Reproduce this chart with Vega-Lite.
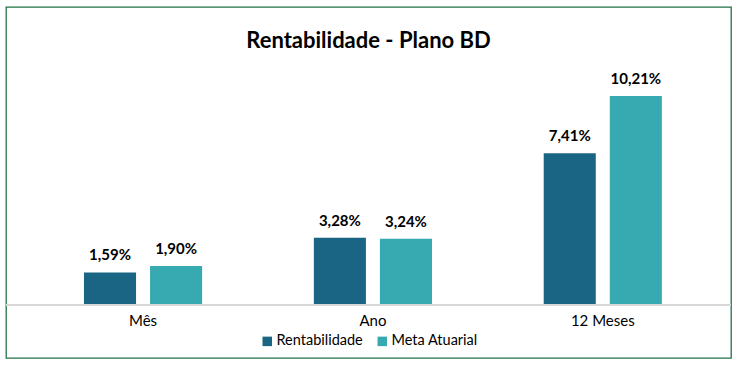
{
  "$schema": "https://vega.github.io/schema/vega-lite/v6.json",
  "width": 725,
  "height": 351,
  "autosize": {"type": "none"},
  "padding": {"left": 6, "top": 7, "right": 7, "bottom": 8},
  "background": "white",
  "config": {
    "locale": {"number": {"decimal": ",", "thousands": ".", "grouping": [3], "currency": ["R$", ""]}},
    "view": {"stroke": "#217346", "strokeWidth": 1.3},
    "font": "Lato"
  },
  "title": {"text": "Rentabilidade - Plano BD", "fontSize": 22, "font": "Lato", "fontWeight": "bold", "color": "#000000", "anchor": "middle", "offset": -46},
  "data": {
    "values": [
      {"periodo": "Mês", "serie": "Rentabilidade", "valor": 0.0159},
      {"periodo": "Mês", "serie": "Meta Atuarial", "valor": 0.0190},
      {"periodo": "Ano", "serie": "Rentabilidade", "valor": 0.0328},
      {"periodo": "Ano", "serie": "Meta Atuarial", "valor": 0.0324},
      {"periodo": "12 Meses", "serie": "Rentabilidade", "valor": 0.0741},
      {"periodo": "12 Meses", "serie": "Meta Atuarial", "valor": 0.1021}
    ]
  },
  "encoding": {
    "x": {"field": "periodo", "type": "nominal", "sort": ["Mês", "Ano", "12 Meses"],
      "scale": {"paddingInner": 0.486, "paddingOuter": 0.32, "align": 0.53},
      "axis": {"title": null, "domain": false, "ticks": false, "labelAngle": 0, "labelFontSize": 15, "labelColor": "#000000", "offset": -53, "labelPadding": 8, "labelFont": "Lato"}},
    "xOffset": {"field": "serie", "type": "nominal", "scale": {"domain": ["Rentabilidade", "Meta Atuarial"], "paddingInner": 0.212, "paddingOuter": 0}},
    "y": {"field": "valor", "type": "quantitative", "scale": {"domain": [-0.02589, 0.14557], "nice": false, "zero": false}, "axis": null}
  },
  "layer": [
    {
      "mark": {"type": "bar"},
      "encoding": {
        "y2": {"datum": 0},
        "color": {"field": "serie", "type": "nominal",
          "scale": {"domain": ["Rentabilidade", "Meta Atuarial"], "range": ["#1B6584", "#37A9B0"]},
          "legend": {"title": null, "orient": "none", "legendX": 254, "legendY": 327, "direction": "horizontal", "symbolType": "square", "symbolSize": 90, "symbolStrokeWidth": 0, "labelFontSize": 14.5, "labelColor": "#000000", "labelFont": "Lato", "columnPadding": 12, "labelOffset": 2}}
      }
    },
    {
      "mark": {"type": "text", "dy": -9, "baseline": "bottom", "fontWeight": "bold", "fontSize": 15, "font": "Lato", "color": "#000000"},
      "encoding": {"text": {"field": "valor", "type": "quantitative", "format": ".2%"}}
    },
    {
      "mark": {"type": "rule", "color": "#D9D9D9", "strokeWidth": 1},
      "encoding": {"y": {"datum": 0}, "x": null, "xOffset": null}
    }
  ]
}
